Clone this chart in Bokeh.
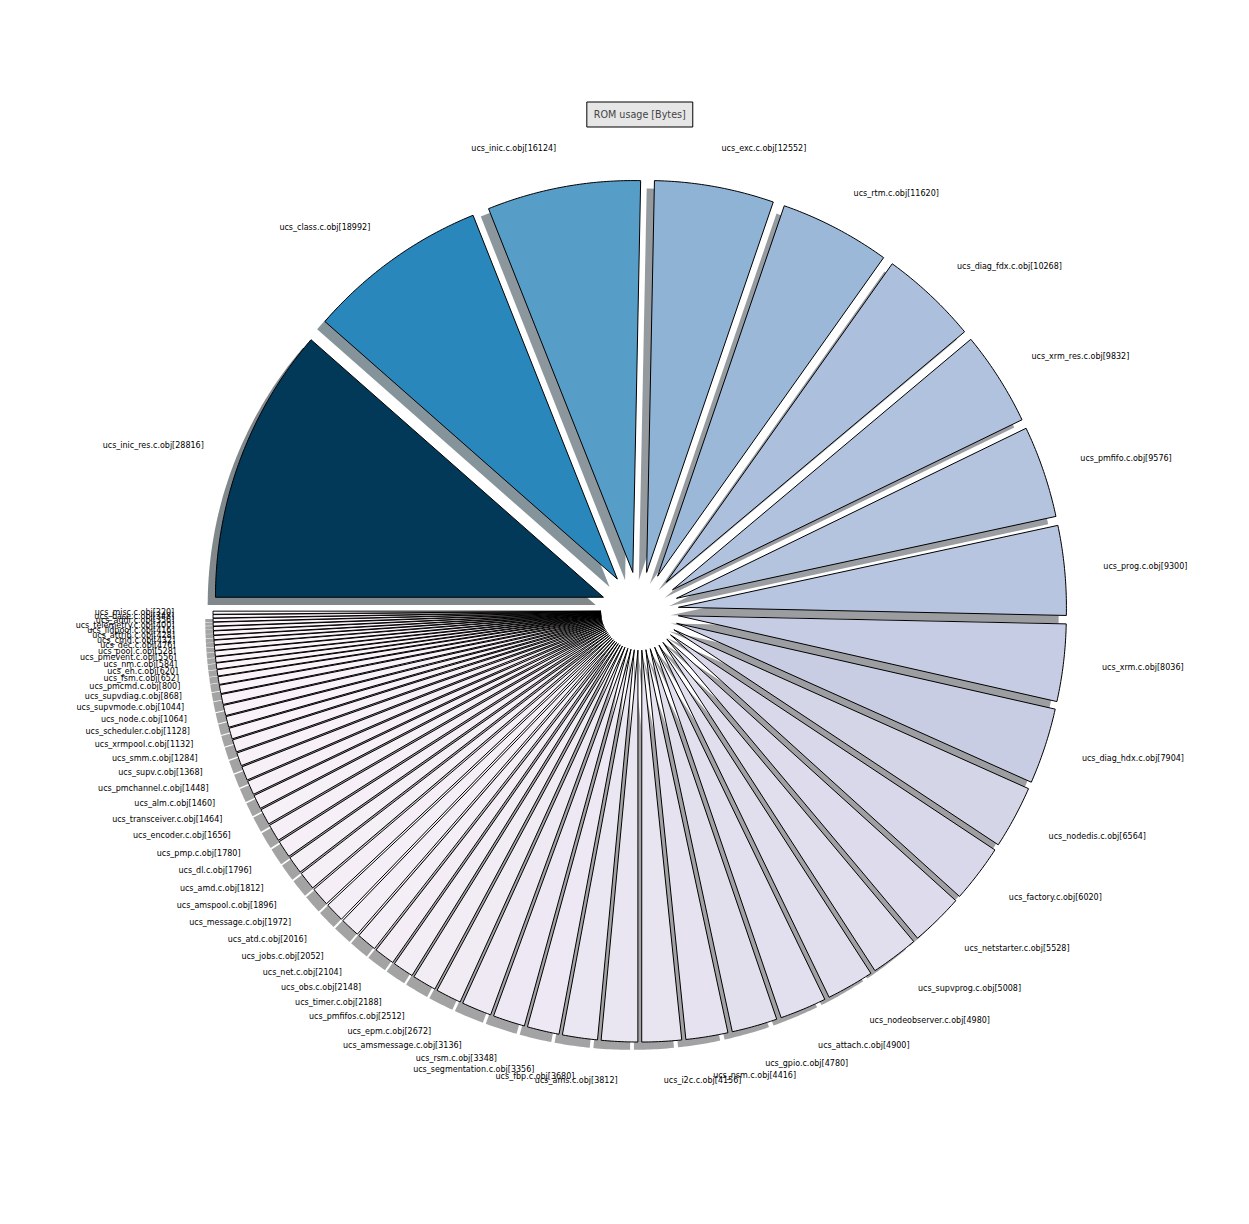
import numpy as np
from bokeh.plotting import figure
from bokeh.models import ColumnDataSource, Label, Range1d
from bokeh.core.properties import value
from bokeh.embed import file_html
from bokeh.resources import INLINE

# ---- data ----
modules = ["ucs_inic_res", "ucs_class", "ucs_inic", "ucs_exc", "ucs_rtm", "ucs_diag_fdx",
           "ucs_xrm_res", "ucs_pmfifo", "ucs_prog", "ucs_xrm", "ucs_diag_hdx", "ucs_nodedis",
           "ucs_factory", "ucs_netstarter", "ucs_supvprog", "ucs_nodeobserver", "ucs_attach",
           "ucs_gpio", "ucs_nsm", "ucs_i2c", "ucs_ams", "ucs_fbp", "ucs_segmentation", "ucs_rsm",
           "ucs_amsmessage", "ucs_epm", "ucs_pmfifos", "ucs_timer", "ucs_obs", "ucs_net",
           "ucs_jobs", "ucs_atd", "ucs_message", "ucs_amspool", "ucs_amd", "ucs_dl", "ucs_pmp",
           "ucs_encoder", "ucs_transceiver", "ucs_alm", "ucs_pmchannel", "ucs_supv", "ucs_smm",
           "ucs_xrmpool", "ucs_scheduler", "ucs_node", "ucs_supvmode", "ucs_supvdiag",
           "ucs_pmcmd", "ucs_fsm", "ucs_eh", "ucs_nm", "ucs_pmevent", "ucs_pool", "ucs_dec",
           "ucs_cmd", "ucs_attrib", "ucs_lldpool", "ucs_telemetry", "ucs_addr", "ucs_base",
           "ucs_misc"]
rom_bytes = [28816, 18992, 16124, 12552, 11620, 10268,
             9832, 9576, 9300, 8036, 7904, 6564,
             6020, 5528, 5008, 4980, 4900,
             4780, 4416, 4156, 3812, 3680, 3356, 3348,
             3136, 2672, 2512, 2188, 2148, 2104,
             2052, 2016, 1972, 1896, 1812, 1796, 1780,
             1656, 1464, 1460, 1448, 1368, 1284,
             1132, 1128, 1064, 1044, 868,
             800, 652, 620, 584, 556, 528, 476,
             432, 428, 416, 400, 356, 348,
             320]
title_text = "ROM usage [Bytes]"

# PuBu colormap anchors
pubu = ["#fff7fb", "#ece7f2", "#d0d1e6", "#a6bddb", "#74a9cf", "#3690c0", "#0570b0", "#045a8d", "#023858"]

def hex2rgb(h):
    h = h.lstrip("#")
    return np.array([int(h[i:i + 2], 16) for i in (0, 2, 4)], dtype=float)

anch = np.array([hex2rgb(c) for c in pubu])

def cmap(t):
    t = min(max(t, 0.0), 1.0)
    pos = t * (len(anch) - 1)
    i = min(int(pos), len(anch) - 2)
    f = pos - i
    return anch[i] * (1 - f) + anch[i + 1] * f

def to_hex(rgb):
    return "#%02x%02x%02x" % tuple(int(round(v)) for v in rgb)

# ---- layout ----
W, H = 1249, 1224
cx, cy = 639.3, H - 610.5      # pie centre (pixels, y up)
R = 388.0
explode = 0.1
ysc = 1.01                      # vertical pixels per data unit (axes not quite equal aspect)

vals = np.array(rom_bytes, dtype=float)
T = vals.sum()
cum = np.concatenate([[0.0], np.cumsum(vals)])
th1 = 180.0 - cum[:-1] / T * 360.0
th2 = 180.0 - cum[1:] / T * 360.0
mid = np.radians((th1 + th2) / 2.0)

ox = cx + explode * R * np.cos(mid)
oy = cy + explode * R * np.sin(mid)

rgbs = [cmap(v / vals.max()) for v in vals]
fills = [to_hex(c) for c in rgbs]
shadows = [to_hex(0.3 * c) for c in rgbs]

def wedge_poly(x0, y0, a2, a1):
    n = max(3, int(abs(a1 - a2) * 2) + 2)
    a = np.radians(np.linspace(a2, a1, n))
    return ([x0] + list(x0 + R * np.cos(a)) + [x0],
            [y0] + list(y0 + R * np.sin(a)) + [y0])

xs, ys, sxs, sys_ = [], [], [], []
for i in range(len(vals)):
    px, py = wedge_poly(ox[i], oy[i], th2[i], th1[i])
    xs.append(px); ys.append(py)
    sxs.append([v - 0.02 * R for v in px]); sys_.append([v - 0.02 * R for v in py])

src = ColumnDataSource(dict(xs=xs, ys=ys, sxs=sxs, sys=sys_, fill=fills, shadow=shadows))

p = figure(width=W, height=H, x_range=Range1d(0, W),
           y_range=Range1d(cy - cy / ysc, cy + (H - cy) / ysc),
           output_backend="svg", toolbar_location=None, min_border=0,
           x_axis_location=None, y_axis_location=None)
p.grid.visible = False
p.outline_line_color = None
p.background_fill_color = "white"
p.border_fill_color = "white"

p.patches(xs="sxs", ys="sys", source=src, fill_color="shadow", fill_alpha=0.5, line_color=None)
p.patches(xs="xs", ys="ys", source=src, fill_color="fill", line_color="black",
          line_width=1.0, line_join="miter")

labels = ["%s.c.obj[%d]" % (m, v) for m, v in zip(modules, rom_bytes)]
lx = ox + 1.1 * R * np.cos(mid)
ly = oy + 1.1 * R * np.sin(mid)
right = np.cos(mid) >= 0
for side, align in ((right, "left"), (~right, "right")):
    s = ColumnDataSource(dict(x=lx[side], y=ly[side], t=[l for l, k in zip(labels, side) if k]))
    p.text(x="x", y="y", text="t", source=s, text_align=align, text_baseline="middle",
           text_font_size="8px", text_font=value("DejaVu Sans"), text_color="black")

p.add_layout(Label(x=cx, y=cy + (H - 114 - cy) / ysc, text=title_text, text_align="center",
                   text_baseline="middle", text_font_size="9.6px", text_font="DejaVu Sans",
                   background_fill_color="#e6e6e6", border_line_color="black",
                   border_line_width=1, padding=7))

open("out.html", "w").write(file_html(p, INLINE))
